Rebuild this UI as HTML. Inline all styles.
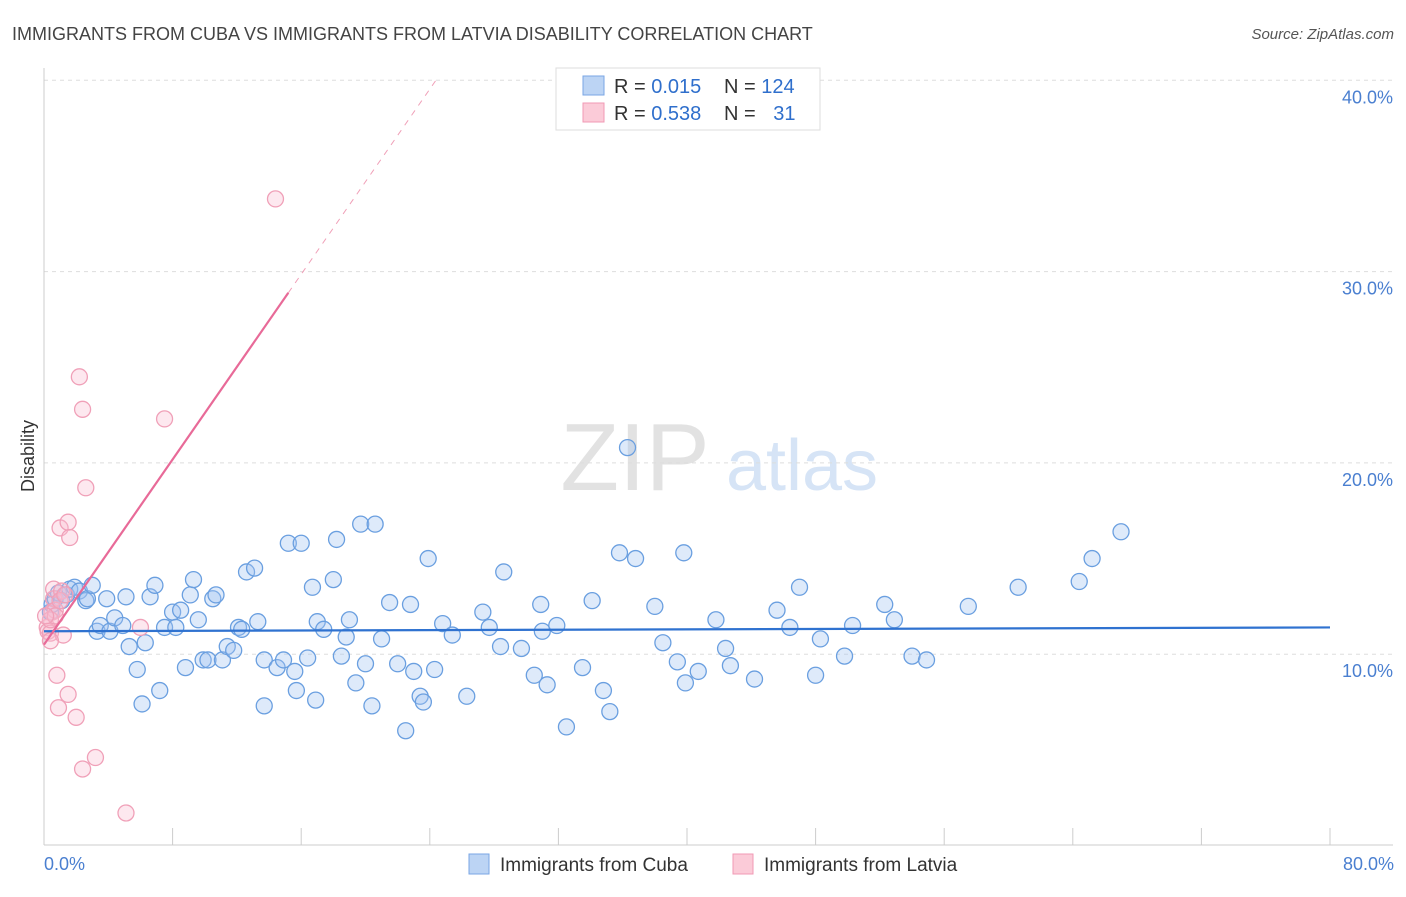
<!DOCTYPE html>
<html><head><meta charset="utf-8"><style>
body{margin:0;background:#fff;font-family:"Liberation Sans",sans-serif;}
svg text{font-family:"Liberation Sans",sans-serif;}
</style></head><body>
<svg id="chart" width="1406" height="892" viewBox="0 0 1406 892">
<text x="12" y="40" font-size="18" fill="#444">IMMIGRANTS FROM CUBA VS IMMIGRANTS FROM LATVIA DISABILITY CORRELATION CHART</text>
<text x="1394" y="39" font-size="15" fill="#555" font-style="italic" text-anchor="end">Source: ZipAtlas.com</text>
<g>
<text x="635" y="490" font-size="96" fill="#e2e2e2" font-family="Liberation Serif" text-anchor="middle">ZIP</text>
<text x="802" y="490" font-size="72" fill="#d6e4f6" text-anchor="middle">atlas</text>
</g>
<g id="grid"></g>
<g id="axes"></g>
<g id="marks"></g>
<text transform="translate(34,456) rotate(-90)" font-size="18" fill="#333" text-anchor="middle">Disability</text>
<text x="44" y="870" font-size="18" fill="#4a7fd0">0.0%</text>
<text x="1394" y="870" font-size="18" fill="#4a7fd0" text-anchor="end">80.0%</text>
<g>
<rect x="556" y="68" width="264" height="62" fill="#fff" stroke="#ddd"/>
<rect x="583" y="76" width="21" height="19" fill="#bcd4f4" stroke="#7aa6e4"/>
<rect x="583" y="103" width="21" height="19" fill="#fbcbd8" stroke="#f09ab4"/>
<text x="614" y="93" font-size="20" fill="#333">R = <tspan fill="#2f6fcc">0.015</tspan></text>
<text x="724" y="93" font-size="20" fill="#333">N = <tspan fill="#2f6fcc">124</tspan></text>
<text x="614" y="120" font-size="20" fill="#333">R = <tspan fill="#2f6fcc">0.538</tspan></text>
<text x="724" y="120" font-size="20" fill="#333">N = <tspan fill="#2f6fcc" dx="12">31</tspan></text>
</g>
<g>
<rect x="469" y="854" width="20" height="20" fill="#bcd4f4" stroke="#7aa6e4"/>
<text x="500" y="871" font-size="19" fill="#333">Immigrants from Cuba</text>
<rect x="733" y="854" width="20" height="20" fill="#fbcbd8" stroke="#f09ab4"/>
<text x="764" y="871" font-size="19" fill="#333">Immigrants from Latvia</text>
</g>
</svg>
<script>
const yTicks=[10,20,30,40];
const yTickLabels=["10.0%","20.0%","30.0%","40.0%"];
const xTicks=[0,8,16,24,32,40,48,56,64,72,80];
const cubaX=[0.4,0.5,0.7,0.9,1.1,1.4,1.6,1.9,2.2,2.6,2.7,3.0,3.3,3.5,3.9,4.1,4.4,4.9,5.1,5.3,5.8,6.1,6.3,6.6,6.9,7.2,7.5,8.0,8.2,8.5,8.8,9.1,9.3,9.6,9.9,10.2,10.5,10.7,11.1,11.4,11.8,12.1,12.3,12.6,13.1,13.3,13.7,13.7,14.5,14.9,15.2,15.6,15.7,16.0,16.4,16.7,16.9,17.0,17.4,18.0,18.2,18.5,18.8,19.0,19.4,19.7,20.0,20.4,20.6,21.0,21.5,22.0,22.5,22.8,23.0,23.4,23.6,23.9,24.3,24.8,25.4,26.3,27.3,27.7,28.4,28.6,29.7,30.5,30.9,31.0,31.3,31.9,32.5,33.5,34.1,34.8,35.2,35.8,36.3,36.8,38.0,38.5,39.4,39.8,39.9,40.7,41.8,42.4,42.7,44.2,45.6,46.4,47.0,48.0,48.3,49.8,50.3,52.3,52.9,54.0,54.9,57.5,60.6,64.4,65.2,67.0];
const cubaY=[12.2,12.6,12.9,13.2,12.8,13.1,13.4,13.5,13.3,12.8,12.9,13.6,11.2,11.5,12.9,11.2,11.9,11.5,13.0,10.4,9.2,7.4,10.6,13.0,13.6,8.1,11.4,12.2,11.4,12.3,9.3,13.1,13.9,11.8,9.7,9.7,12.9,13.1,9.7,10.4,10.2,11.4,11.3,14.3,14.5,11.7,9.7,7.3,9.3,9.7,15.8,9.1,8.1,15.8,9.8,13.5,7.6,11.7,11.3,13.9,16.0,9.9,10.9,11.8,8.5,16.8,9.5,7.3,16.8,10.8,12.7,9.5,6.0,12.6,9.1,7.8,7.5,15.0,9.2,11.6,11.0,7.8,12.2,11.4,10.4,14.3,10.3,8.9,12.6,11.2,8.4,11.5,6.2,9.3,12.8,8.1,7.0,15.3,20.8,15.0,12.5,10.6,9.6,15.3,8.5,9.1,11.8,10.3,9.4,8.7,12.3,11.4,13.5,8.9,10.8,9.9,11.5,12.6,11.8,9.9,9.7,12.5,13.5,13.8,15.0,16.4];
const latviaX=[0.2,0.25,0.4,0.5,0.6,0.6,0.7,0.8,0.9,1.0,1.1,1.2,1.5,1.5,1.6,2.0,2.2,2.4,2.4,2.6,3.2,5.1,6.0,7.5,14.4,0.4,0.7,1.0,1.3,0.4,0.1];
const latviaY=[11.4,11.2,11.1,12.2,12.9,13.4,12.3,8.9,7.2,16.6,13.3,11.0,7.9,16.9,16.1,6.7,24.5,22.8,4.0,18.7,4.6,1.7,11.4,22.3,33.8,11.8,12.0,12.8,13.1,10.7,12.0];
const cubaFit=[11.2,0.0025];
const latviaFit=[10.5,1.21];
const X0=44,X1=1330,Y0=845.5,YS=19.13;
const sx=v=>X0+(X1-X0)*v/80, sy=v=>Y0-v*YS;
const NS="http://www.w3.org/2000/svg";
function mk(t,a,p){const e=document.createElementNS(NS,t);for(const k in a)e.setAttribute(k,a[k]);p.appendChild(e);return e;}
const grid=document.getElementById('grid'),axes=document.getElementById('axes'),marks=document.getElementById('marks');
yTicks.forEach((v,i)=>{
 const l=mk('line',{x1:44,x2:1393,y1:sy(v),y2:sy(v),stroke:'#ddd','stroke-dasharray':'4,4'},grid);
 
 
 const t=mk('text',{x:1393,y:sy(v)+23,'font-size':18,fill:'#4a7fd0','text-anchor':'end'},grid);
 t.textContent=yTickLabels[i];
 
 
});
const la=mk('line',{x1:44,x2:44,y1:68,y2:845,stroke:'#ccc'},axes);


const lb=mk('line',{x1:44,x2:1393,y1:845,y2:845,stroke:'#ccc'},axes);


xTicks.forEach(v=>{
 const t=mk('line',{x1:sx(v),x2:sx(v),y1:828,y2:845,stroke:'#ccc'},axes);
 
 
});
cubaX.forEach((x,i)=>{
 const c=mk('circle',{cx:sx(x),cy:sy(cubaY[i]),r:8,fill:'rgba(160,196,240,0.35)',stroke:'#6a9fe0','stroke-width':1.3},marks);
 
 
});
latviaX.forEach((x,i)=>{
 const c=mk('circle',{cx:sx(x),cy:sy(latviaY[i]),r:8,fill:'rgba(248,190,208,0.35)',stroke:'#f0a0b8','stroke-width':1.3},marks);
 
 
});
const bl=mk('line',{x1:sx(0),y1:sy(cubaFit[0]),x2:sx(80),y2:sy(cubaFit[0]+80*cubaFit[1]),stroke:'#2f72d0','stroke-width':2.2},marks);


const xe=15.2, xd=(40-latviaFit[0])/latviaFit[1];
const pl=mk('line',{x1:sx(0),y1:sy(latviaFit[0]),x2:sx(xe),y2:sy(latviaFit[0]+xe*latviaFit[1]),stroke:'#e86a98','stroke-width':2.2},marks);


const pd=mk('line',{x1:sx(xe),y1:sy(latviaFit[0]+xe*latviaFit[1]),x2:sx(xd),y2:sy(40),stroke:'#f0a0b8','stroke-width':1,'stroke-dasharray':'6,6'},marks);


</script>
</body></html>
